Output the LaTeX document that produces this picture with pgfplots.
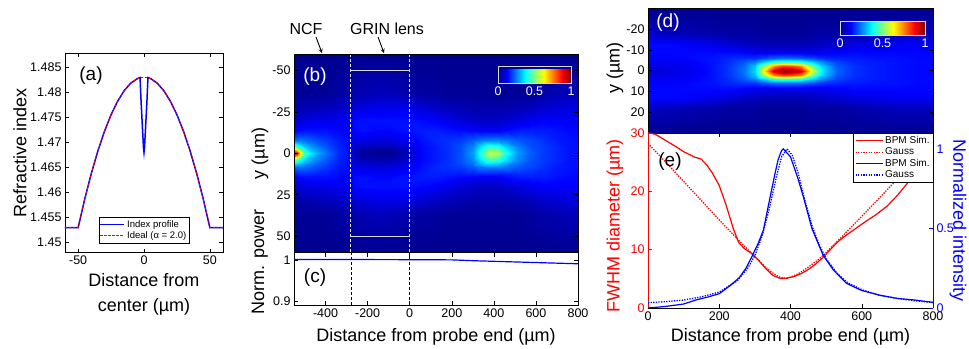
\documentclass[border=0pt]{standalone}
\usepackage{fontspec}
\setmainfont{Liberation Sans}
\usepackage{pgfplots}
\usepackage{pgfplotstable}
\pgfplotsset{compat=1.18}
\pgfplotsset{
  colormap={mjet}{rgb255(0cm)=(0,0,143) rgb255(1cm)=(0,0,255) rgb255(3cm)=(0,255,255) rgb255(5cm)=(255,255,0) rgb255(7cm)=(255,0,0) rgb255(8cm)=(128,0,0)},
  every axis/.append style={
    scale only axis,
    enlargelimits=false,
    /pgf/number format/assume math mode=true,
    tick label style={font=\fontsize{12.5}{14}\selectfont},
    label style={font=\fontsize{18}{25}\selectfont},
    major tick length=4pt,
    tick align=inside,
    tick style={black, line width=0.5pt},
    axis line style={line width=0.6pt},
  },
}

% half field map (y >= 0) of panel (b): x, y, normalized intensity
\pgfplotstableread{
x y z
-550 0 1.00
-550 4 0.50
-550 8 0.22
-550 14 0.11
-550 20 0.06
-550 28 0.02
-550 36 0.01
-550 60 0.00
-538 0 0.88
-538 4 0.46
-538 8 0.23
-538 14 0.12
-538 20 0.07
-538 28 0.03
-538 36 0.01
-538 60 0.00
-522 0 0.66
-522 4 0.40
-522 8 0.24
-522 14 0.13
-522 20 0.08
-522 28 0.03
-522 36 0.01
-522 60 0.00
-500 0 0.45
-500 4 0.33
-500 8 0.23
-500 14 0.14
-500 20 0.09
-500 28 0.04
-500 36 0.01
-500 60 0.00
-460 0 0.33
-460 4 0.27
-460 8 0.21
-460 14 0.14
-460 20 0.10
-460 28 0.04
-460 36 0.01
-460 60 0.00
-400 0 0.24
-400 4 0.21
-400 8 0.18
-400 14 0.14
-400 20 0.10
-400 28 0.05
-400 36 0.01
-400 60 0.00
-340 0 0.17
-340 4 0.16
-340 8 0.15
-340 14 0.13
-340 20 0.11
-340 28 0.06
-340 36 0.02
-340 60 0.00
-280 0 0.13
-280 4 0.13
-280 8 0.13
-280 14 0.12
-280 20 0.11
-280 28 0.07
-280 36 0.03
-280 60 0.00
-265 0 0.03
-265 4 0.06
-265 8 0.10
-265 14 0.13
-265 20 0.13
-265 28 0.08
-265 36 0.03
-265 60 0.00
-220 0 0.01
-220 4 0.05
-220 8 0.10
-220 14 0.14
-220 20 0.14
-220 28 0.09
-220 36 0.04
-220 60 0.00
-160 0 0.00
-160 4 0.04
-160 8 0.09
-160 14 0.13
-160 20 0.14
-160 28 0.10
-160 36 0.05
-160 60 0.00
-100 0 0.00
-100 4 0.04
-100 8 0.09
-100 14 0.13
-100 20 0.14
-100 28 0.10
-100 36 0.05
-100 60 0.00
-40 0 0.02
-40 4 0.06
-40 8 0.10
-40 14 0.14
-40 20 0.14
-40 28 0.10
-40 36 0.04
-40 60 0.00
0 0 0.06
0 4 0.08
0 8 0.11
0 14 0.14
0 20 0.14
0 28 0.09
0 36 0.03
0 60 0.00
60 0 0.13
60 4 0.13
60 8 0.14
60 14 0.15
60 20 0.13
60 28 0.08
60 36 0.02
60 60 0.00
120 0 0.15
120 4 0.15
120 8 0.16
120 14 0.15
120 20 0.12
120 28 0.06
120 36 0.02
120 60 0.00
180 0 0.17
180 4 0.17
180 8 0.17
180 14 0.14
180 20 0.10
180 28 0.05
180 36 0.01
180 60 0.00
240 0 0.20
240 4 0.20
240 8 0.18
240 14 0.13
240 20 0.08
240 28 0.04
240 36 0.01
240 60 0.00
300 0 0.28
300 4 0.26
300 8 0.21
300 14 0.12
300 20 0.07
300 28 0.03
300 36 0.01
300 60 0.00
340 0 0.42
340 4 0.36
340 8 0.24
340 14 0.11
340 20 0.06
340 28 0.03
340 36 0.01
340 60 0.00
380 0 0.57
380 4 0.44
380 8 0.25
380 14 0.11
380 20 0.06
380 28 0.03
380 36 0.01
380 60 0.00
420 0 0.55
420 4 0.42
420 8 0.25
420 14 0.11
420 20 0.06
420 28 0.03
420 36 0.01
420 60 0.00
460 0 0.40
460 4 0.34
460 8 0.24
460 14 0.13
460 20 0.07
460 28 0.03
460 36 0.01
460 60 0.00
520 0 0.27
520 4 0.25
520 8 0.21
520 14 0.15
520 20 0.09
520 28 0.04
520 36 0.01
520 60 0.00
580 0 0.21
580 4 0.20
580 8 0.19
580 14 0.15
580 20 0.11
580 28 0.05
580 36 0.02
580 60 0.00
640 0 0.18
640 4 0.18
640 8 0.17
640 14 0.15
640 20 0.12
640 28 0.07
640 36 0.03
640 60 0.00
700 0 0.16
700 4 0.16
700 8 0.15
700 14 0.14
700 20 0.12
700 28 0.08
700 36 0.04
700 60 0.00
760 0 0.14
760 4 0.14
760 8 0.14
760 14 0.13
760 20 0.12
760 28 0.09
760 36 0.05
760 60 0.00
800 0 0.14
800 4 0.14
800 8 0.14
800 14 0.13
800 20 0.12
800 28 0.09
800 36 0.05
800 60 0.00
}\tabb

% half field map (y >= 0) of panel (d)
\pgfplotstableread{
x y z
0 0 0.08
0 2 0.09
0 4 0.11
0 6 0.12
0 9 0.13
0 13 0.13
0 18 0.06
0 30 0.00
60 0 0.09
60 2 0.10
60 4 0.11
60 6 0.12
60 9 0.13
60 13 0.13
60 18 0.05
60 30 0.00
120 0 0.11
120 2 0.11
120 4 0.12
120 6 0.13
120 9 0.13
120 13 0.12
120 18 0.04
120 30 0.00
180 0 0.14
180 2 0.14
180 4 0.14
180 6 0.14
180 9 0.13
180 13 0.10
180 18 0.03
180 30 0.00
230 0 0.18
230 2 0.18
230 4 0.17
230 6 0.16
230 9 0.13
230 13 0.08
230 18 0.02
230 30 0.00
270 0 0.24
270 2 0.23
270 4 0.21
270 6 0.17
270 9 0.12
270 13 0.06
270 18 0.02
270 30 0.00
300 0 0.34
300 2 0.32
300 4 0.25
300 6 0.17
300 9 0.11
300 13 0.05
300 18 0.02
300 30 0.00
330 0 0.70
330 2 0.56
330 4 0.35
330 6 0.20
330 9 0.10
330 13 0.04
330 18 0.01
330 30 0.00
355 0 0.92
355 2 0.74
355 4 0.42
355 6 0.22
355 9 0.10
355 13 0.04
355 18 0.01
355 30 0.00
380 0 1.00
380 2 0.82
380 4 0.45
380 6 0.23
380 9 0.10
380 13 0.04
380 18 0.01
380 30 0.00
405 0 0.98
405 2 0.80
405 4 0.44
405 6 0.23
405 9 0.10
405 13 0.04
405 18 0.01
405 30 0.00
430 0 0.92
430 2 0.74
430 4 0.42
430 6 0.22
430 9 0.10
430 13 0.04
430 18 0.01
430 30 0.00
460 0 0.60
460 2 0.50
460 4 0.34
460 6 0.20
460 9 0.10
460 13 0.05
460 18 0.02
460 30 0.00
490 0 0.35
490 2 0.32
490 4 0.26
490 6 0.17
490 9 0.11
490 13 0.06
490 18 0.02
490 30 0.00
530 0 0.22
530 2 0.21
530 4 0.19
530 6 0.16
530 9 0.12
530 13 0.07
530 18 0.02
530 30 0.00
580 0 0.17
580 2 0.17
580 4 0.16
580 6 0.15
580 9 0.13
580 13 0.09
580 18 0.03
580 30 0.00
640 0 0.15
640 2 0.15
640 4 0.15
640 6 0.14
640 9 0.13
640 13 0.10
640 18 0.04
640 30 0.00
700 0 0.14
700 2 0.14
700 4 0.14
700 6 0.14
700 9 0.13
700 13 0.11
700 18 0.05
700 30 0.00
760 0 0.13
760 2 0.13
760 4 0.13
760 6 0.13
760 9 0.13
760 13 0.11
760 18 0.05
760 30 0.00
800 0 0.13
800 2 0.13
800 4 0.13
800 6 0.13
800 9 0.13
800 13 0.11
800 18 0.05
800 30 0.00
}\tabd

\begin{document}
\begin{tikzpicture}
\useasboundingbox (0,0) rectangle (969pt,348pt);

% ---------------- (a)
\begin{axis}[at={(65pt,95.3pt)}, anchor=south west, width=158pt, height=199.7pt,
  xmin=-60, xmax=60, ymin=1.448, ymax=1.4878,
  xtick={-50,0,50},
  ytick={1.45,1.455,1.46,1.465,1.47,1.475,1.48,1.485},
  yticklabels={1.45,1.455,1.46,1.465,1.47,1.475,1.48,1.485},
  xlabel={Distance from\\center (µm)},
  xlabel style={align=center, at={(axis description cs:0.5,-0.209)}, anchor=center},
  ylabel={Refractive index},
  ylabel style={at={(axis description cs:-0.285,0.5)}, anchor=center},
  legend style={at={(0.5,0.049)}, anchor=south, font=\fontsize{9.5}{10}\selectfont,
    draw=black, inner sep=1pt, row sep=-1.5pt},
  legend cell align=left,
  legend image code/.code={\draw[#1] (0pt,0pt) -- (24pt,0pt);},
]
\addplot[blue, line width=1.5pt] coordinates {
(-60,1.453) (-50,1.453) (-45,1.4587) (-40,1.4638) (-35,1.4683) (-30,1.4722) (-25,1.4755)
(-20,1.4782) (-15,1.4803) (-10,1.4818) (-5,1.4827) (-3,1.4829) (-2.2,1.478) (-1.2,1.473)
(-0.4,1.469) (0,1.468) (0.4,1.469) (1.2,1.473) (2.2,1.478) (3,1.4829) (5,1.4827)
(10,1.4818) (15,1.4803) (20,1.4782) (25,1.4755) (30,1.4722) (35,1.4683) (40,1.4638)
(45,1.4587) (50,1.453) (60,1.453)};
\addlegendentry{Index profile}
\addplot[red, line width=0.8pt, dash pattern=on 2.5pt off 1.5pt] coordinates {
(-60,1.453) (-50,1.453) (-45,1.4587) (-40,1.4638) (-35,1.4683) (-30,1.4722) (-25,1.4755)
(-20,1.4782) (-15,1.4803) (-10,1.4818) (-5,1.4827) (0,1.483) (5,1.4827)
(10,1.4818) (15,1.4803) (20,1.4782) (25,1.4755) (30,1.4722) (35,1.4683) (40,1.4638)
(45,1.4587) (50,1.453) (60,1.453)};
\addlegendentry{Ideal (α = 2.0)}
\end{axis}

% ---------------- (b)
\begin{axis}[at={(294pt,95.3pt)}, anchor=south west, width=284pt, height=198.7pt,
  xmin=-550, xmax=800, ymin=-60, ymax=60, y dir=reverse,
  xtick=\empty, ytick={-50,-25,0,25,50},
  colormap name=mjet, point meta min=0, point meta max=1,
  axis on top,
  ylabel={y (µm)},
  ylabel style={at={(axis description cs:-0.12,0.5)}, anchor=center},
  colorbar horizontal,
  colorbar style={at={(parent axis.north east)}, anchor=north east,
    xshift=-7pt, yshift=-4pt, width=73pt, height=17pt,
    xtick={0,0.5,1}, major tick length=0pt,
    xticklabel style={text=white, font=\fontsize{12.5}{14}\selectfont},
    axis line style={white!85!black, line width=0.8pt}},
]
\addplot[surf, shader=interp, mesh/cols=8, point meta=\thisrow{z}] table[x=x, y=y] {\tabb};
\addplot[surf, shader=interp, mesh/cols=8, point meta=\thisrow{z}] table[x=x, y expr=-\thisrow{y}] {\tabb};
\addplot[white!90!black, line width=0.8pt, dash pattern=on 3pt off 2pt] coordinates {(-280,-60) (-280,60)};
\addplot[white!90!black, line width=0.8pt, dash pattern=on 3pt off 2pt] coordinates {(0,-60) (0,60)};
\addplot[white!85!black, line width=0.9pt] coordinates {(-280,-50) (0,-50)};
\addplot[white!85!black, line width=0.9pt] coordinates {(-280,50) (0,50)};
\end{axis}

% ---------------- (c)
\begin{axis}[at={(294pt,43pt)}, anchor=south west, width=284pt, height=52.3pt,
  xmin=-550, xmax=800, ymin=0.89, ymax=1.0175,
  xtick={-400,-200,0,200,400,600,800}, ytick={0.9,1},
  xlabel={Distance from probe end (µm)},
  xlabel style={at={(axis description cs:0.5,-0.612)}, anchor=center},
  ylabel={Norm. power},
  ylabel style={at={(axis description cs:-0.12,0.82)}, anchor=center},
]
\addplot[black, line width=0.6pt, dash pattern=on 3pt off 2pt] coordinates {(-280,0.89) (-280,1.0175)};
\addplot[black, line width=0.6pt, dash pattern=on 3pt off 2pt] coordinates {(0,0.89) (0,1.0175)};
\addplot[blue, line width=1.2pt] coordinates {
(-550,1.001) (-280,1.0008) (0,1.0005) (200,1.0) (300,0.998) (400,0.9965) (500,0.995)
(600,0.9935) (700,0.992) (800,0.9905)};
\end{axis}

% ---------------- (d)
\begin{axis}[at={(648pt,215pt)}, anchor=south west, width=285pt, height=124.7pt,
  xmin=0, xmax=800, ymin=-30, ymax=30, y dir=reverse,
  xtick=\empty, ytick={-20,-10,0,10,20},
  colormap name=mjet, point meta min=0, point meta max=1,
  axis on top,
  ylabel={y (µm)},
  ylabel style={at={(axis description cs:-0.116,0.52)}, anchor=center},
  colorbar horizontal,
  colorbar style={at={(parent axis.north east)}, anchor=north east,
    xshift=-8pt, yshift=-4.4pt, width=85pt, height=14pt,
    xtick={0,0.5,1}, major tick length=0pt,
    xticklabel style={text=white, font=\fontsize{12.5}{14}\selectfont},
    axis line style={white!85!black, line width=0.8pt}},
]
\addplot[surf, shader=interp, mesh/cols=8, point meta=\thisrow{z}] table[x=x, y=y] {\tabd};
\addplot[surf, shader=interp, mesh/cols=8, point meta=\thisrow{z}] table[x=x, y expr=-\thisrow{y}] {\tabd};
\end{axis}

% ---------------- (e) left axis
\begin{axis}[at={(648pt,40pt)}, anchor=south west, width=285pt, height=175pt,
  xmin=0, xmax=800, ymin=0, ymax=30,
  axis y line*=left, axis x line*=box,
  xtick={0,200,400,600,800}, ytick={0,10,20,30},
  y axis line style={red}, ytick style={red}, yticklabel style={text=red},
  xlabel={Distance from probe end (µm)},
  xlabel style={at={(axis description cs:0.5,-0.166)}, anchor=center},
  ylabel={FWHM diameter (µm)},
  ylabel style={text=red, at={(axis description cs:-0.116,0.47)}, anchor=center},
]
\addplot[red, line width=1.2pt] coordinates {
(0,30.0) (20,29.8) (50,28.7) (80,27.6) (100,26.8) (130,25.9) (150,25.5) (165,24.5) (180,23.2)
(200,21.0) (220,17.5) (240,13.5) (255,11.2) (270,10.2) (290,9.4) (310,8.2) (330,6.8) (350,5.6)
(370,5.1) (390,5.1) (410,5.4) (430,5.9) (450,6.6) (470,7.5) (490,8.6) (510,9.9) (530,11.2)
(550,12.2) (580,13.5) (610,14.8) (640,16.0) (670,17.4) (700,19.3) (720,20.8) (750,23.0) (800,26.5)};
\addplot[red, line width=1.3pt, dash pattern=on 1.3pt off 1.3pt] coordinates {
(0,28.2) (50,25.0) (100,21.7) (150,18.4) (200,15.1) (250,11.9) (300,8.8) (330,7.0) (350,6.0)
(370,5.3) (385,5.1) (400,5.3) (420,5.8) (450,7.0) (480,8.4) (500,9.5) (550,12.6) (600,15.7)
(650,18.9) (700,22.1) (750,25.3) (800,28.5)};
\end{axis}

% ---------------- (e) right axis
\begin{axis}[at={(648pt,40pt)}, anchor=south west, width=285pt, height=175pt,
  xmin=0, xmax=800, ymin=0, ymax=1.1,
  axis y line*=right, axis x line=none,
  ytick={0,0.5,1},
  y axis line style={blue}, ytick style={blue}, yticklabel style={text=blue},
  ylabel={Normalized intensity},
  ylabel style={text=blue, at={(axis description cs:1.088,0.5)}, anchor=center, rotate=180},
  legend style={at={(1,1)}, anchor=north east, font=\fontsize{10}{10.5}\selectfont,
    draw=black, inner sep=1.2pt, row sep=-1.2pt},
  legend cell align=left,
  legend image code/.code={\draw[#1] (0pt,0pt) -- (27pt,0pt);},
]
\addlegendimage{red, line width=1.2pt}
\addlegendentry{BPM Sim.}
\addlegendimage{red, line width=1.3pt, dash pattern=on 1.3pt off 1.3pt}
\addlegendentry{Gauss}
\addplot[blue, line width=1.2pt] coordinates {
(0,0.0) (50,0.01) (100,0.025) (134,0.05) (170,0.07) (200,0.09) (230,0.14) (256,0.19) (275,0.25)
(291,0.32) (310,0.41) (324,0.49) (343,0.70) (355,0.83) (365,0.93) (375,0.99) (380,1.0)
(400,0.95) (420,0.82) (436,0.70) (460,0.50) (492,0.33) (520,0.24) (557,0.155) (600,0.11)
(651,0.08) (700,0.06) (750,0.05) (800,0.035)};
\addlegendentry{BPM Sim.}
\addplot[blue, line width=1.3pt, dash pattern=on 1.3pt off 1.3pt] coordinates {
(0,0.033) (50,0.04) (100,0.05) (150,0.07) (200,0.10) (250,0.17) (280,0.25) (300,0.33)
(320,0.45) (340,0.62) (360,0.82) (375,0.95) (390,1.0) (405,0.96) (420,0.86) (440,0.68)
(460,0.52) (480,0.40) (500,0.31) (530,0.22) (560,0.16) (600,0.115) (650,0.08) (700,0.06)
(750,0.045) (800,0.035)};
\addlegendentry{Gauss}
\end{axis}

% annotations and panel labels
\node[font=\fontsize{16}{18}\selectfont] at (306pt,319pt) {NCF};
\node[font=\fontsize{16}{18}\selectfont] at (387pt,319pt) {GRIN lens};
\draw[-stealth, line width=0.9pt] (316pt,311pt) -- (322pt,295pt);
\draw[-stealth, line width=0.9pt] (378pt,311pt) -- (384pt,295pt);
\node[font=\fontsize{19}{21}\selectfont] at (91pt,272pt) {(a)};
\node[font=\fontsize{19}{21}\selectfont, text=white] at (315pt,271pt) {(b)};
\node[font=\fontsize{19}{21}\selectfont] at (315pt,70pt) {(c)};
\node[font=\fontsize{19}{21}\selectfont, text=white] at (668pt,325pt) {(d)};
\node[font=\fontsize{19}{21}\selectfont] at (670pt,186pt) {(e)};
\end{tikzpicture}
\end{document}
